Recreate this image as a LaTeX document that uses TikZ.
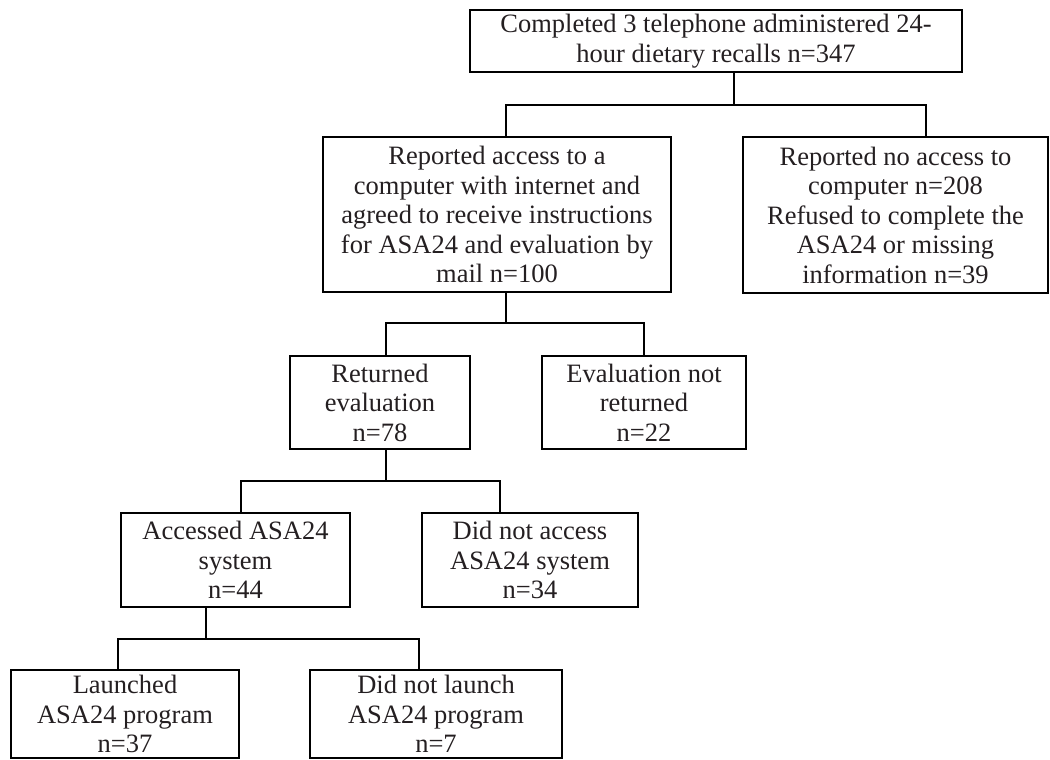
\documentclass[tikz,border=0pt]{standalone}
\usepackage{fontspec}
\setmainfont{Liberation Serif}
\definecolor{ink}{rgb}{0.14,0.12,0.13}
\tikzset{%
  box/.style = {rectangle, draw=black, line width=1.8pt, align=center,
                inner sep=0pt, text=ink,
                font=\fontsize{26.5}{29.5}\selectfont},
  link/.style = {draw=black, line width=1.8pt},
  }

\begin{document}
\begin{tikzpicture}[x=1pt, y=-1pt]
    \useasboundingbox (0,0) rectangle (1050,760);

    \node (recalls)     [box, minimum width=492, minimum height=62] at (716,41)
        {Completed 3 telephone administered 24-\\hour dietary recalls n=347};
    \node (internet)    [box, minimum width=348, minimum height=155] at (497,214.5)
        {Reported access to a\\computer with internet and\\agreed to receive instructions\\for ASA24 and evaluation by\\mail n=100};
    \node (nocomputer)  [box, minimum width=305, minimum height=156] at (895.5,215)
        {Reported no access to\\computer n=208\\Refused to complete the\\ASA24 or missing\\information n=39};
    \node (returned)    [box, minimum width=180, minimum height=93] at (380,402.5)
        {Returned\\evaluation\\n=78};
    \node (notreturned) [box, minimum width=204, minimum height=93] at (644,402.5)
        {Evaluation not\\returned\\n=22};
    \node (accessed)    [box, minimum width=229, minimum height=94] at (235.5,560)
        {Accessed ASA24\\system\\n=44};
    \node (notaccessed) [box, minimum width=216, minimum height=94] at (530,560)
        {Did not access\\ASA24 system\\n=34};
    \node (launched)    [box, minimum width=228, minimum height=88] at (125,714)
        {Launched\\ASA24 program\\n=37};
    \node (notlaunched) [box, minimum width=252, minimum height=88] at (436,714)
        {Did not launch\\ASA24 program\\n=7};

    % forks between the levels
    \coordinate (fork1) at (734,105);
    \coordinate (fork2) at (506,323);
    \coordinate (fork3) at (386,481);
    \coordinate (fork4) at (206,639);

    \draw[link] ([xshift=18]recalls.south) -- (fork1);
    \draw[link] ([xshift=9]internet.north) |- (fork1) -| ([xshift=30.5]nocomputer.north);

    \draw[link] ([xshift=9]internet.south) -- (fork2);
    \draw[link] ([xshift=6]returned.north) |- (fork2) -| (notreturned.north);

    \draw[link] ([xshift=6]returned.south) -- (fork3);
    \draw[link] ([xshift=5.5]accessed.north) |- (fork3) -| ([xshift=-30]notaccessed.north);

    \draw[link] ([xshift=-29.5]accessed.south) -- (fork4);
    \draw[link] ([xshift=-7]launched.north) |- (fork4) -| ([xshift=-17]notlaunched.north);
\end{tikzpicture}
\end{document}
